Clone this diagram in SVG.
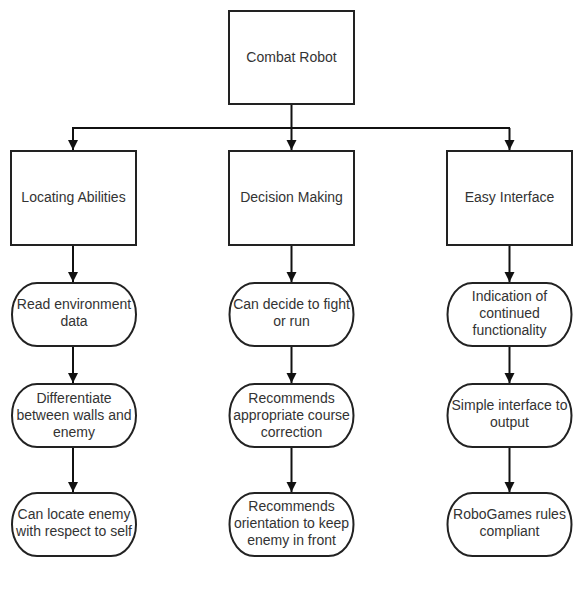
<svg xmlns="http://www.w3.org/2000/svg" width="582" height="597" viewBox="0 0 582 597">
<style>
.box{fill:#fff;stroke:#222;stroke-width:2}
.t{font-family:"Liberation Sans",Arial,sans-serif;font-size:14px;fill:#333;text-anchor:middle}
.c{fill:none;stroke:#111;stroke-width:2}
</style>
<defs>
<marker id="ah" viewBox="0 0 10 14" refX="10" refY="7" markerWidth="10" markerHeight="14" markerUnits="userSpaceOnUse" orient="auto">
<path d="M0,2 L10,7 L0,12 Z" fill="#111"/>
</marker>
</defs>
<rect x="0" y="0" width="582" height="597" fill="#fff"/>
<g id="connectors">
<path class="c" d="M291.5,104 V128"/>
<path class="c" d="M72,128 H510"/>
<path class="c" d="M73,128 V150" marker-end="url(#ah)"/>
<path class="c" d="M291.5,128 V150" marker-end="url(#ah)"/>
<path class="c" d="M509.5,128 V150" marker-end="url(#ah)"/>
<path class="c" d="M73,245 V282" marker-end="url(#ah)"/>
<path class="c" d="M291.5,245 V282" marker-end="url(#ah)"/>
<path class="c" d="M509.5,245 V282" marker-end="url(#ah)"/>
<path class="c" d="M73,346 V383" marker-end="url(#ah)"/>
<path class="c" d="M291.5,346 V383" marker-end="url(#ah)"/>
<path class="c" d="M509.5,346 V383" marker-end="url(#ah)"/>
<path class="c" d="M73,447 V492" marker-end="url(#ah)"/>
<path class="c" d="M291.5,447 V492" marker-end="url(#ah)"/>
<path class="c" d="M509.5,447 V492" marker-end="url(#ah)"/>
</g>
<g id="combat-robot"><rect class="box" x="229" y="11" width="125" height="93"/><text class="t" x="291.5" y="62">Combat Robot</text></g>
<g id="locating"><rect class="box" x="11" y="151" width="125" height="94"/><text class="t" x="73.5" y="202">Locating Abilities</text></g>
<g id="decision"><rect class="box" x="229" y="151" width="125" height="94"/><text class="t" x="291.5" y="202">Decision Making</text></g>
<g id="interface"><rect class="box" x="447" y="151" width="125" height="94"/><text class="t" x="509.5" y="202">Easy Interface</text></g>

<g id="read-env"><rect class="box" x="12" y="283" width="124" height="63" rx="25" ry="31.5"/><text class="t" x="74" y="309">Read environment</text><text class="t" x="74" y="326">data</text></g>
<g id="decide"><rect class="box" x="229.5" y="283" width="124" height="63" rx="25" ry="31.5"/><text class="t" x="291.5" y="309">Can decide to fight</text><text class="t" x="291.5" y="326">or run</text></g>
<g id="indication"><rect class="box" x="447.5" y="283" width="124" height="63" rx="25" ry="31.5"/><text class="t" x="509.5" y="301">Indication of</text><text class="t" x="509.5" y="318">continued</text><text class="t" x="509.5" y="335">functionality</text></g>

<g id="differentiate"><rect class="box" x="12" y="384" width="124" height="63" rx="25" ry="31.5"/><text class="t" x="74" y="402.5">Differentiate</text><text class="t" x="74" y="420">between walls and</text><text class="t" x="74" y="437">enemy</text></g>
<g id="course"><rect class="box" x="229.5" y="384" width="124" height="63" rx="25" ry="31.5"/><text class="t" x="291.5" y="402.5">Recommends</text><text class="t" x="291.5" y="420">appropriate course</text><text class="t" x="291.5" y="437">correction</text></g>
<g id="simple"><rect class="box" x="447.5" y="384" width="124" height="63" rx="25" ry="31.5"/><text class="t" x="509.5" y="410">Simple interface to</text><text class="t" x="509.5" y="427">output</text></g>

<g id="locate-enemy"><rect class="box" x="12" y="493" width="124" height="63" rx="25" ry="31.5"/><text class="t" x="74" y="519">Can locate enemy</text><text class="t" x="74" y="536">with respect to self</text></g>
<g id="orientation"><rect class="box" x="229.5" y="493" width="124" height="63" rx="25" ry="31.5"/><text class="t" x="291.5" y="511">Recommends</text><text class="t" x="291.5" y="528">orientation to keep</text><text class="t" x="291.5" y="545">enemy in front</text></g>
<g id="robogames"><rect class="box" x="447.5" y="493" width="124" height="63" rx="25" ry="31.5"/><text class="t" x="509.5" y="519">RoboGames rules</text><text class="t" x="509.5" y="536">compliant</text></g>
</svg>
